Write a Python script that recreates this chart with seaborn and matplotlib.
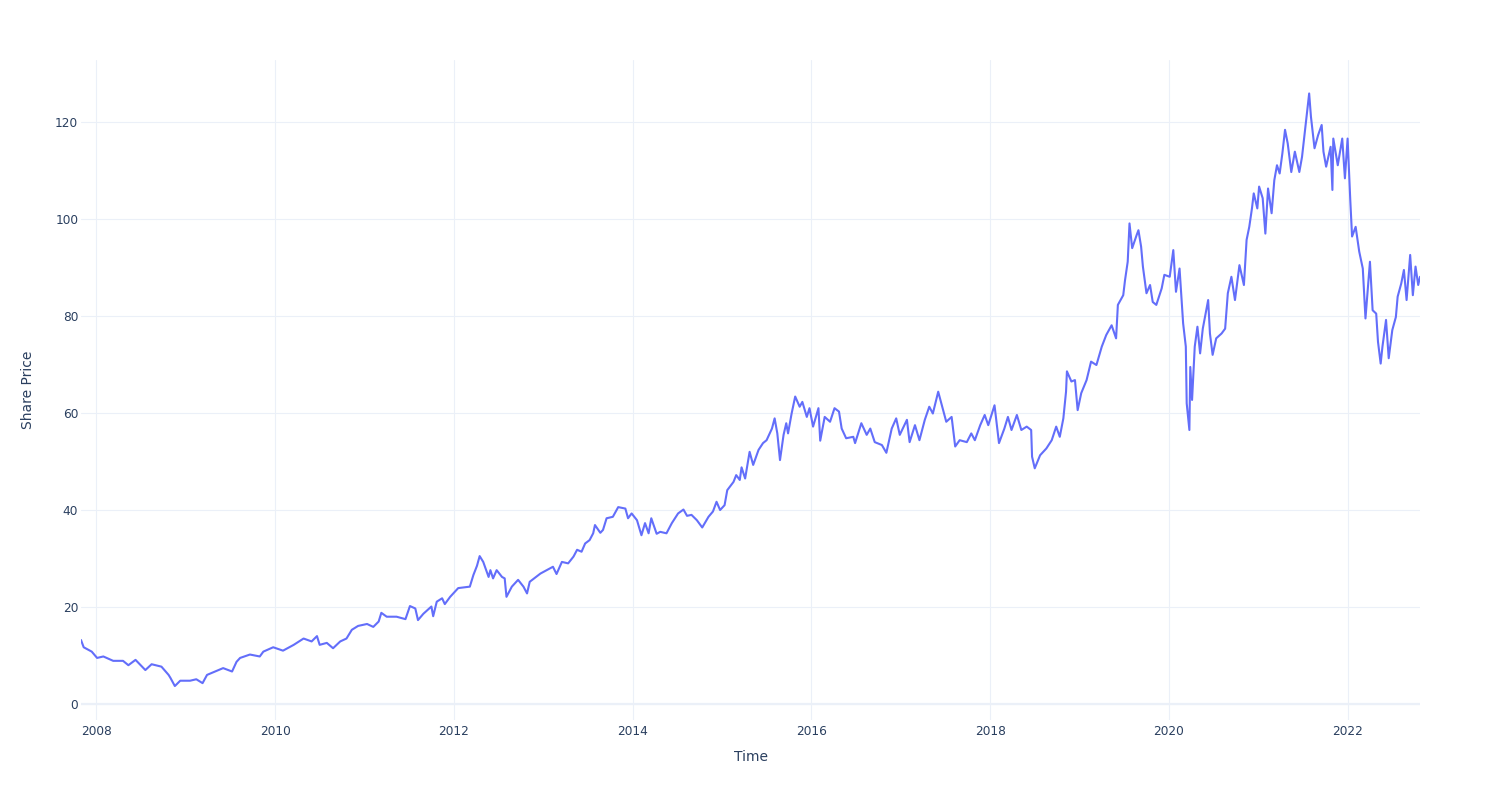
import numpy as np
import pandas as pd
import matplotlib
matplotlib.use("Agg")
import matplotlib.pyplot as plt
import matplotlib.dates as mdates
import seaborn as sns

# ---- data (time as decimal year, share price) ----
time_years = [
    2007.83, 2007.86, 2007.95, 2008.01, 2008.08, 2008.19, 2008.30, 2008.36, 2008.44, 2008.55,
    2008.62, 2008.73, 2008.81, 2008.83, 2008.88, 2008.94, 2009.05, 2009.12, 2009.19, 2009.24,
    2009.33, 2009.42, 2009.52, 2009.57, 2009.61, 2009.72, 2009.83, 2009.87, 2009.98, 2010.09,
    2010.21, 2010.32, 2010.41, 2010.47, 2010.50, 2010.58, 2010.65, 2010.73, 2010.80, 2010.86,
    2010.93, 2011.03, 2011.10, 2011.16, 2011.19, 2011.25, 2011.36, 2011.46, 2011.51, 2011.57,
    2011.60, 2011.66, 2011.75, 2011.77, 2011.81, 2011.87, 2011.90, 2011.96, 2012.05, 2012.18,
    2012.22, 2012.26, 2012.29, 2012.33, 2012.39, 2012.41, 2012.44, 2012.48, 2012.54, 2012.57,
    2012.59, 2012.65, 2012.72, 2012.78, 2012.82, 2012.85, 2012.97, 2013.04, 2013.11, 2013.15,
    2013.21, 2013.28, 2013.34, 2013.38, 2013.43, 2013.47, 2013.52, 2013.56, 2013.58, 2013.64,
    2013.67, 2013.71, 2013.78, 2013.84, 2013.92, 2013.95, 2013.99, 2014.05, 2014.10, 2014.14,
    2014.18, 2014.21, 2014.27, 2014.31, 2014.38, 2014.44, 2014.51, 2014.57, 2014.61, 2014.66,
    2014.72, 2014.78, 2014.85, 2014.90, 2014.94, 2014.98, 2015.03, 2015.06, 2015.13, 2015.16,
    2015.20, 2015.22, 2015.26, 2015.31, 2015.35, 2015.41, 2015.46, 2015.50, 2015.56, 2015.59,
    2015.62, 2015.65, 2015.69, 2015.72, 2015.74, 2015.78, 2015.82, 2015.87, 2015.90, 2015.95,
    2015.98, 2016.02, 2016.08, 2016.10, 2016.15, 2016.21, 2016.26, 2016.31, 2016.34, 2016.39,
    2016.47, 2016.49, 2016.56, 2016.62, 2016.66, 2016.71, 2016.79, 2016.84, 2016.90, 2016.95,
    2016.99, 2017.07, 2017.10, 2017.16, 2017.21, 2017.27, 2017.32, 2017.36, 2017.42, 2017.47,
    2017.51, 2017.57, 2017.61, 2017.66, 2017.74, 2017.79, 2017.83, 2017.89, 2017.94, 2017.98,
    2018.05, 2018.10, 2018.16, 2018.20, 2018.24, 2018.30, 2018.35, 2018.41, 2018.46, 2018.47,
    2018.50, 2018.56, 2018.63, 2018.69, 2018.74, 2018.78, 2018.82, 2018.85, 2018.86, 2018.91,
    2018.95, 2018.98, 2019.02, 2019.08, 2019.13, 2019.19, 2019.25, 2019.30, 2019.36, 2019.41,
    2019.43, 2019.49, 2019.51, 2019.54, 2019.56, 2019.59, 2019.64, 2019.66, 2019.69, 2019.71,
    2019.75, 2019.79, 2019.82, 2019.86, 2019.92, 2019.95, 2020.01, 2020.05, 2020.08, 2020.12,
    2020.16, 2020.19, 2020.20, 2020.23, 2020.24, 2020.26, 2020.29, 2020.32, 2020.35, 2020.38,
    2020.44, 2020.46, 2020.49, 2020.53, 2020.59, 2020.63, 2020.66, 2020.70, 2020.74, 2020.79,
    2020.84, 2020.87, 2020.90, 2020.93, 2020.95, 2020.99, 2021.01, 2021.05, 2021.08, 2021.11,
    2021.15, 2021.18, 2021.21, 2021.24, 2021.27, 2021.30, 2021.33, 2021.37, 2021.41, 2021.46,
    2021.49, 2021.53, 2021.57, 2021.59, 2021.63, 2021.67, 2021.71, 2021.73, 2021.76, 2021.81,
    2021.83, 2021.84, 2021.89, 2021.94, 2021.97, 2022.00, 2022.02, 2022.03, 2022.05, 2022.09,
    2022.13, 2022.17, 2022.20, 2022.25, 2022.28, 2022.32, 2022.34, 2022.37, 2022.39, 2022.43,
    2022.46, 2022.50, 2022.54, 2022.56, 2022.60, 2022.63, 2022.66, 2022.70, 2022.73, 2022.76,
    2022.79, 2022.81,
]

share_price = [
    13.2, 11.7, 10.8, 9.5, 9.8, 8.9, 8.9, 8.0, 9.1, 7.0,
    8.2, 7.7, 6.0, 5.4, 3.7, 4.8, 4.8, 5.1, 4.3, 6.0,
    6.7, 7.4, 6.7, 8.7, 9.5, 10.2, 9.8, 10.8, 11.7, 11.0,
    12.2, 13.5, 12.9, 14.0, 12.2, 12.6, 11.5, 12.9, 13.5, 15.3,
    16.1, 16.5, 15.9, 17.0, 18.8, 18.0, 18.0, 17.5, 20.2, 19.7,
    17.3, 18.6, 20.1, 18.1, 21.1, 21.8, 20.6, 22.1, 23.9, 24.2,
    26.6, 28.5, 30.5, 29.3, 26.2, 27.6, 25.9, 27.6, 26.2, 25.9,
    22.1, 24.2, 25.6, 24.2, 22.8, 25.2, 26.9, 27.6, 28.3, 26.8,
    29.3, 29.0, 30.4, 31.8, 31.4, 33.1, 33.8, 35.2, 36.9, 35.3,
    35.9, 38.3, 38.6, 40.6, 40.3, 38.3, 39.3, 37.9, 34.8, 37.3,
    35.2, 38.3, 35.1, 35.5, 35.2, 37.3, 39.3, 40.1, 38.8, 39.0,
    37.9, 36.4, 38.6, 39.7, 41.7, 40.0, 41.0, 44.1, 45.8, 47.2,
    46.2, 48.8, 46.5, 52.0, 49.3, 52.4, 53.8, 54.4, 56.8, 58.9,
    55.8, 50.3, 55.5, 57.9, 55.8, 59.9, 63.4, 61.3, 62.3, 59.2,
    61.0, 57.2, 61.0, 54.3, 59.2, 58.2, 61.0, 60.3, 56.8, 54.8,
    55.1, 53.8, 57.9, 55.5, 56.8, 54.0, 53.4, 51.8, 56.8, 58.9,
    55.5, 58.6, 54.0, 57.5, 54.4, 58.6, 61.3, 59.9, 64.4, 61.0,
    58.2, 59.2, 53.1, 54.4, 54.0, 55.8, 54.4, 57.5, 59.6, 57.5,
    61.6, 53.8, 56.8, 59.2, 56.5, 59.6, 56.5, 57.2, 56.5, 51.0,
    48.6, 51.3, 52.7, 54.4, 57.2, 55.1, 58.9, 64.4, 68.6, 66.5,
    66.8, 60.6, 64.1, 66.8, 70.6, 69.9, 73.7, 76.1, 78.1, 75.4,
    82.3, 84.3, 87.4, 91.2, 99.1, 94.0, 96.7, 97.7, 94.3, 90.2,
    84.7, 86.4, 82.9, 82.3, 85.7, 88.5, 88.1, 93.6, 85.0, 89.8,
    78.5, 73.7, 62.0, 56.5, 69.5, 62.7, 73.7, 77.8, 72.3, 77.4,
    83.3, 76.4, 72.0, 75.4, 76.4, 77.4, 84.7, 88.1, 83.3, 90.5,
    86.4, 95.7, 98.4, 102.2, 105.3, 102.2, 106.7, 104.3, 97.0, 106.3,
    101.2, 108.0, 111.1, 109.4, 113.5, 118.4, 115.6, 109.7, 113.9, 109.7,
    112.8, 119.4, 125.9, 121.1, 114.6, 117.3, 119.4, 113.9, 110.8, 114.9,
    106.0, 116.6, 111.1, 116.6, 108.4, 116.6, 108.0, 103.9, 96.4, 98.4,
    93.3, 89.8, 79.5, 91.2, 81.2, 80.5, 74.7, 70.2, 73.7, 79.2,
    71.3, 77.1, 79.8, 84.0, 86.7, 89.5, 83.3, 92.6, 84.3, 90.2,
    86.4, 88.1,
]

y_ticks = [0, 20, 40, 60, 80, 100, 120]
x_label = "Time"
y_label = "Share Price"

# ---- build frame ----
yrs = np.array(time_years)
dates = pd.Timestamp("2000-01-01") + pd.to_timedelta((yrs - 2000.0) * 365.25, unit="D")
df = pd.DataFrame({"Time": dates, "Share Price": share_price})

# ---- style ----
sns.set_style("white")
plt.rcParams["font.family"] = ["DejaVu Sans"]
text_color = "#2a3f5f"
grid_color = "#EBF0F8"
line_color = "#636EFA"

fig = plt.figure(figsize=(15, 8), dpi=100)
ax = fig.add_axes([81 / 1500, 80 / 800, (1420 - 81) / 1500, 660 / 800])

sns.lineplot(data=df, x="Time", y="Share Price", ax=ax, color=line_color,
             linewidth=1.5, zorder=3)

ax.set_xlim(df["Time"].min(), df["Time"].max())
ax.set_ylim(-3.3, 132.8)
ax.set_yticks(y_ticks)
ax.xaxis.set_major_locator(mdates.YearLocator(2))
ax.xaxis.set_major_formatter(mdates.DateFormatter("%Y"))

ax.grid(True, color=grid_color, linewidth=0.8, zorder=0)
ax.axhline(0, color=grid_color, linewidth=1.6, zorder=1)
for s in ax.spines.values():
    s.set_visible(False)
ax.tick_params(axis="both", length=0, labelsize=8.7, labelcolor=text_color)
ax.tick_params(axis="x", pad=3.5)
ax.tick_params(axis="y", pad=2)

ax.set_xlabel(x_label, fontsize=10, color=text_color, labelpad=9)
ax.set_ylabel(y_label, fontsize=10, color=text_color, labelpad=14.5)

fig.savefig("out.png", dpi=100, facecolor="white")
